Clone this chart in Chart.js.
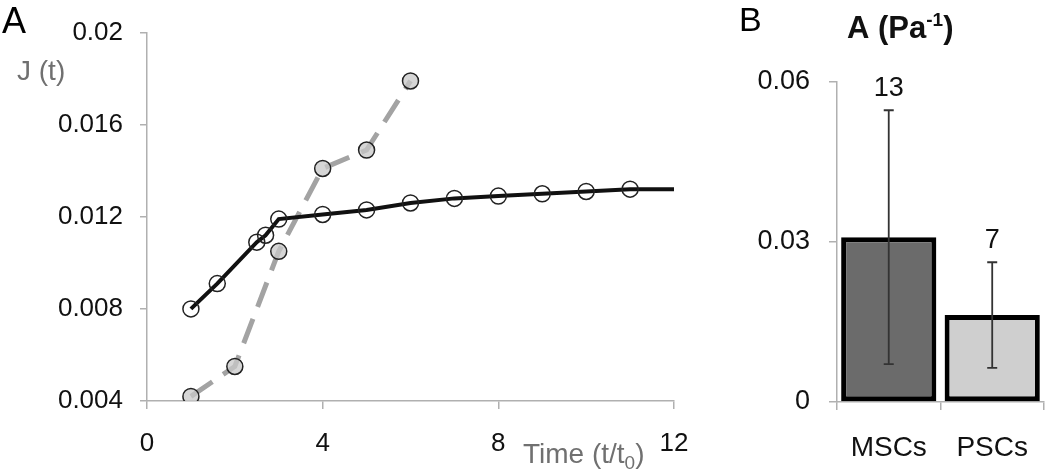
<!DOCTYPE html>
<html>
<head>
<meta charset="utf-8">
<script src="https://cdn.jsdelivr.net/npm/chart.js@4"></script>
<style>
html, body { margin:0; padding:0; background:#fff; }
body { width:1050px; height:474px; position:relative; overflow:hidden; }
#wrapA { position:absolute; left:0; top:0; width:711px; height:474px; }
#wrapB { position:absolute; left:730px; top:0; width:320px; height:474px; }
</style>
</head>
<body>
<div id="wrapA"><canvas id="chartA"></canvas></div>
<div id="wrapB"><canvas id="chartB"></canvas></div>
<script>
// Panel A — creep compliance J(t) against normalised time
const timeBlack = [1, 1.6, 2.5, 2.7, 3, 4, 5, 6, 7, 8, 9, 10, 11, 12];
const jBlack    = [0.0080, 0.0091, 0.0109, 0.0112, 0.0119, 0.0121, 0.0123, 0.0126, 0.0128, 0.0129, 0.0130, 0.0131, 0.0132, 0.0132];
const timeGrey  = [1, 2, 3, 4, 5, 6];
const jGrey     = [0.0042, 0.0055, 0.0105, 0.0141, 0.0149, 0.0179];
const xTicksA   = [0, 4, 8, 12];
const yTicksA   = [0.004, 0.008, 0.012, 0.016, 0.02];

// Panel B — fitted A parameter per cell type
const cellTypes = ['MSCs', 'PSCs'];
const aMean     = [0.0309, 0.0163];
const aErr      = [0.0238, 0.0099];
const nCells    = ['13', '7'];
const yTicksB   = [0, 0.03, 0.06];

const FONT = '"Liberation Sans", Arial, sans-serif';
const AXIS_GREY = '#b0b0b0';

Chart.defaults.font.family = FONT;
Chart.defaults.animation = false;

const toPts = (xs, ys) => xs.map((x, i) => ({ x: x, y: ys[i] }));

// draws a string made of parts (normal / sub / superscript), returns end x
function drawRich(ctx, parts, x, y) {
    parts.forEach(p => {
        ctx.font = p.font;
        ctx.fillStyle = p.color;
        ctx.fillText(p.text, x, y + (p.dy || 0));
        x += ctx.measureText(p.text).width;
    });
    return x;
}

// ─── Panel A texts: letter, J(t), time title ─────────────────
const textsA = {
    id: 'textsA',
    afterDraw(chart) {
        const ctx = chart.ctx;
        const xs = chart.scales.x;
        ctx.save();
        ctx.textAlign = 'left';
        ctx.textBaseline = 'alphabetic';
        ctx.font = '36px ' + FONT;
        ctx.fillStyle = '#000';
        ctx.fillText('A', 2, 33);
        ctx.font = '28px ' + FONT;
        ctx.fillStyle = '#707070';
        ctx.fillText('J (t)', 17, 80);
        drawRich(ctx, [
            { text: 'Time (t/t', font: '28px ' + FONT, color: '#707070' },
            { text: '0', font: '19px ' + FONT, color: '#707070', dy: 6 },
            { text: ')', font: '28px ' + FONT, color: '#707070' }
        ], xs.right - 151, 463);
        ctx.restore();
    }
};

new Chart(document.getElementById('chartA'), {
    type: 'line',
    data: {
        datasets: [{
            data: toPts(timeBlack, jBlack),
            borderColor: '#111',
            borderWidth: 4,
            pointRadius: c => c.dataIndex === timeBlack.length - 1 ? 0 : 8,
            pointBorderColor: '#222',
            pointBorderWidth: 1.5,
            pointBackgroundColor: 'rgba(255,255,255,0)',
            tension: 0
        }, {
            data: toPts(timeGrey, jGrey),
            borderColor: '#a3a3a3',
            borderWidth: 5,
            borderDash: [26, 13],
            pointRadius: 8,
            pointBorderColor: '#222',
            pointBorderWidth: 1.5,
            pointBackgroundColor: 'rgba(200,200,200,0.75)',
            tension: 0
        }]
    },
    options: {
        responsive: true,
        maintainAspectRatio: false,
        layout: { padding: { top: 30, right: 37, left: 0, bottom: 0 } },
        plugins: { legend: { display: false }, tooltip: { enabled: false } },
        scales: {
            x: {
                type: 'linear',
                min: 0, max: 12,
                afterBuildTicks: s => { s.ticks = xTicksA.map(v => ({ value: v })); },
                afterFit: s => { s.height = 73; },
                grid: { drawOnChartArea: false, tickLength: 8, color: AXIS_GREY, lineWidth: 1.5 },
                border: { color: AXIS_GREY, width: 1.5 },
                ticks: { color: '#111', padding: 19, font: { size: 26, family: FONT } }
            },
            y: {
                min: 0.004, max: 0.02,
                afterBuildTicks: s => { s.ticks = yTicksA.map(v => ({ value: v })); },
                afterFit: s => { s.width = 147; },
                grid: { drawOnChartArea: false, tickLength: 7, color: AXIS_GREY, lineWidth: 1.5 },
                border: { color: AXIS_GREY, width: 1.5 },
                ticks: { color: '#111', padding: 17, font: { size: 26, family: FONT }, callback: v => String(+v.toFixed(3)) }
            }
        }
    },
    plugins: [textsA]
});

// ─── Panel B: error bars, n labels, titles ───────────────────
const extrasB = {
    id: 'extrasB',
    afterDatasetsDraw(chart) {
        const ctx = chart.ctx;
        const ys = chart.scales.y;
        const bars = chart.getDatasetMeta(0).data;
        ctx.save();
        ctx.strokeStyle = '#333';
        ctx.lineWidth = 1.8;
        bars.forEach((bar, i) => {
            const top = ys.getPixelForValue(aMean[i] + aErr[i]);
            const bot = ys.getPixelForValue(aMean[i] - aErr[i]);
            ctx.beginPath();
            ctx.moveTo(bar.x, top); ctx.lineTo(bar.x, bot);
            ctx.moveTo(bar.x - 5, top); ctx.lineTo(bar.x + 5, top);
            ctx.moveTo(bar.x - 5, bot); ctx.lineTo(bar.x + 5, bot);
            ctx.stroke();
            ctx.font = '27px ' + FONT;
            ctx.fillStyle = '#111';
            ctx.textAlign = 'center';
            ctx.textBaseline = 'alphabetic';
            ctx.fillText(nCells[i], bar.x, top - 14);
        });
        ctx.restore();
    },
    afterDraw(chart) {
        const ctx = chart.ctx;
        ctx.save();
        ctx.textAlign = 'left';
        ctx.textBaseline = 'alphabetic';
        ctx.font = '34px ' + FONT;
        ctx.fillStyle = '#000';
        ctx.fillText('B', 9, 31);
        drawRich(ctx, [
            { text: 'A (Pa', font: 'bold 31px ' + FONT, color: '#111' },
            { text: '-1', font: 'bold 19px ' + FONT, color: '#111', dy: -12 },
            { text: ')', font: 'bold 31px ' + FONT, color: '#111' }
        ], 117, 38);
        ctx.restore();
    }
};

new Chart(document.getElementById('chartB'), {
    type: 'bar',
    data: {
        labels: cellTypes,
        datasets: [{
            data: aMean,
            backgroundColor: ['#6b6b6b', '#cfcfcf'],
            borderColor: '#000',
            borderWidth: 5,
            borderSkipped: false,
            barPercentage: 0.92,
            categoryPercentage: 1.0
        }]
    },
    options: {
        responsive: true,
        maintainAspectRatio: false,
        layout: { padding: { top: 82, right: 4, left: 0, bottom: 0 } },
        plugins: { legend: { display: false }, tooltip: { enabled: false } },
        scales: {
            x: {
                afterFit: s => { s.height = 72; },
                grid: { drawOnChartArea: false, tickLength: 8, color: AXIS_GREY, lineWidth: 1.5 },
                border: { color: AXIS_GREY, width: 1.5 },
                ticks: { color: '#111', padding: 21, font: { size: 28, family: FONT } }
            },
            y: {
                min: 0, max: 0.06,
                afterBuildTicks: s => { s.ticks = yTicksB.map(v => ({ value: v })); },
                afterFit: s => { s.width = 107; },
                grid: { drawOnChartArea: false, tickLength: 8, color: AXIS_GREY, lineWidth: 1.5 },
                border: { color: AXIS_GREY, width: 1.5 },
                ticks: { color: '#111', padding: 19, font: { size: 27, family: FONT }, callback: v => String(+v.toFixed(2)) }
            }
        }
    },
    plugins: [extrasB]
});
</script>
</body>
</html>
